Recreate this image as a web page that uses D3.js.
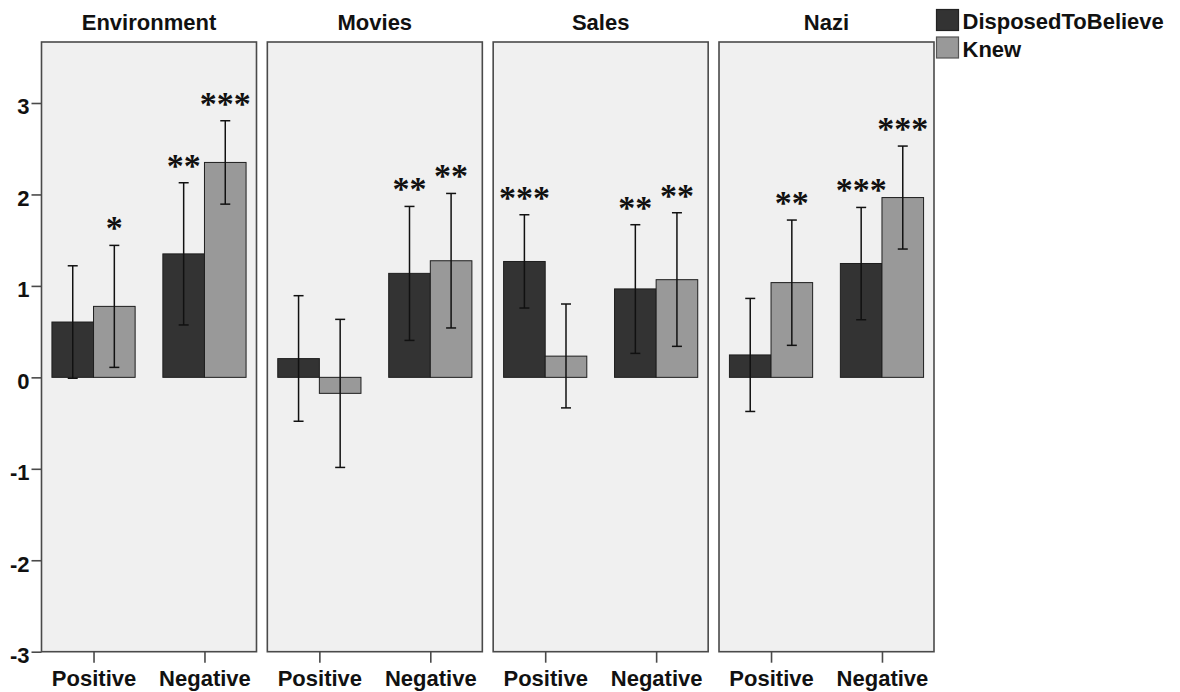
<!DOCTYPE html>
<html>
<head>
<meta charset="utf-8">
<script src="https://cdn.jsdelivr.net/npm/d3@7"></script>
<style>
  html, body { margin: 0; padding: 0; background: #fff; }
  svg { display: block; }
  text { font-family: "Liberation Sans", Arial, sans-serif; font-weight: bold; fill: #111; }
</style>
</head>
<body>
<svg id="chart" width="1180" height="692"></svg>
<script>
// Panels, categories and series
const panels = ["Environment", "Movies", "Sales", "Nazi"];
const categories = ["Positive", "Negative"];
const series = ["DisposedToBelieve", "Knew"];
const yTicks = [-3, -2, -1, 0, 1, 2, 3];

// Values ordered panel by panel: [Positive, Negative] for each panel
const disposedMean = [0.605, 1.35, 0.205, 1.137, 1.267, 0.967, 0.245, 1.245];
const disposedLow  = [-0.01, 0.573, -0.48, 0.404, 0.758, 0.262, -0.373, 0.63];
const disposedHigh = [1.22, 2.128, 0.893, 1.869, 1.778, 1.669, 0.863, 1.858];
const knewMean = [0.776, 2.35, -0.175, 1.275, 0.232, 1.068, 1.036, 1.966];
const knewLow  = [0.109, 1.894, -0.985, 0.54, -0.334, 0.339, 0.35, 1.403];
const knewHigh = [1.443, 2.806, 0.634, 2.011, 0.802, 1.8, 1.72, 2.529];
const disposedStars = ["", "**", "", "**", "***", "**", "", "***"];
const knewStars     = ["*", "***", "", "**", "", "**", "**", "***"];

const colors = { DisposedToBelieve: "#333333", Knew: "#999999" };
const legendStroke = { DisposedToBelieve: "#222222", Knew: "#555555" };

const svg = d3.select("#chart");

const y = d3.scaleLinear().domain([-3, 3.667]).range([651.7, 42]);

const panelX = d3.scaleBand().domain(panels).range([41.5, 934]).paddingInner(0.048).paddingOuter(0);
const catX = d3.scaleBand().domain(categories).range([0, panelX.bandwidth()])
  .paddingInner(0.25).paddingOuter(0.094);
const serX = d3.scaleBand().domain(series).range([0, catX.bandwidth()]).padding(0);

// Flatten into one record per bar
const records = [];
panels.forEach((p, pi) => {
  categories.forEach((c, ci) => {
    const k = pi * categories.length + ci;
    records.push({ panel: p, cat: c, ser: "DisposedToBelieve",
      mean: disposedMean[k], low: disposedLow[k], high: disposedHigh[k], stars: disposedStars[k] });
    records.push({ panel: p, cat: c, ser: "Knew",
      mean: knewMean[k], low: knewLow[k], high: knewHigh[k], stars: knewStars[k] });
  });
});

panels.forEach(p => {
  const g = svg.append("g").attr("transform", `translate(${panelX(p)},0)`);

  g.append("rect")
    .attr("x", 0).attr("y", y(3.667))
    .attr("width", panelX.bandwidth()).attr("height", y(-3) - y(3.667))
    .attr("fill", "#f0f0f0").attr("stroke", "#4a4a4a").attr("stroke-width", 1.6);

  g.append("text")
    .attr("x", panelX.bandwidth() / 2).attr("y", 30)
    .attr("text-anchor", "middle").style("font-size", "22px")
    .text(p);

  const rows = records.filter(r => r.panel === p);
  const bx = r => catX(r.cat) + serX(r.ser);

  g.selectAll("rect.bar").data(rows).join("rect")
    .attr("class", "bar")
    .attr("x", bx)
    .attr("y", r => y(Math.max(0, r.mean)))
    .attr("width", serX.bandwidth())
    .attr("height", r => Math.abs(y(r.mean) - y(0)))
    .attr("fill", r => colors[r.ser])
    .attr("stroke", "#1e1e1e").attr("stroke-width", 1);

  const cx = r => bx(r) + serX.bandwidth() / 2;
  const eb = g.selectAll("g.err").data(rows).join("g").attr("class", "err")
    .attr("stroke", "#111").attr("stroke-width", 1.5);
  eb.append("line").attr("x1", cx).attr("x2", cx)
    .attr("y1", r => y(r.low)).attr("y2", r => y(r.high));
  eb.append("line").attr("x1", r => cx(r) - 5).attr("x2", r => cx(r) + 5)
    .attr("y1", r => y(r.low)).attr("y2", r => y(r.low));
  eb.append("line").attr("x1", r => cx(r) - 5).attr("x2", r => cx(r) + 5)
    .attr("y1", r => y(r.high)).attr("y2", r => y(r.high));

  g.selectAll("text.stars").data(rows.filter(r => r.stars)).join("text")
    .attr("class", "stars")
    .attr("x", cx).attr("y", r => y(r.high) - 6)
    .attr("text-anchor", "middle")
    .style("font-family", "'Liberation Serif', 'Times New Roman', serif")
    .style("font-weight", "bold")
    .style("font-size", "34px")
    .attr("fill", "#000")
    .text(r => r.stars);

  // Category axis under the panel
  const xa = g.append("g").attr("transform", `translate(0,${y(-3)})`)
    .call(d3.axisBottom(d3.scalePoint().domain(categories)
      .range([catX("Positive") + catX.bandwidth() / 2, catX("Negative") + catX.bandwidth() / 2]))
      .tickSize(11).tickPadding(8));
  xa.select(".domain").remove();
  xa.selectAll(".tick line").attr("stroke", "#4a4a4a").attr("stroke-width", 1.6);
  xa.selectAll(".tick text").style("font-size", "22px")
    .style("font-family", "'Liberation Sans', Arial, sans-serif").style("font-weight", "bold").attr("fill", "#111");
});

// Value axis on the first panel
const ya = svg.append("g").attr("transform", `translate(${panelX(panels[0])},0)`)
  .call(d3.axisLeft(y).tickValues(yTicks).tickSize(10).tickPadding(2).tickFormat(d => String(d)));
ya.select(".domain").remove();
ya.selectAll(".tick line").attr("stroke", "#4a4a4a").attr("stroke-width", 1.6);
ya.selectAll(".tick text").attr("dy", "0.5em").style("font-size", "22px")
  .style("font-family", "'Liberation Sans', Arial, sans-serif").style("font-weight", "bold").attr("fill", "#111");

// Legend
const legend = svg.append("g").attr("transform", "translate(936.5,9.5)");
series.forEach((s, i) => {
  legend.append("rect").attr("x", 0).attr("y", i * 27.5)
    .attr("width", 22).attr("height", 21)
    .attr("fill", colors[s]).attr("stroke", legendStroke[s]).attr("stroke-width", 1.2);
  legend.append("text").attr("x", 26).attr("y", i * 27.5 + 19.5)
    .style("font-size", "22px").text(s);
});
</script>
</body>
</html>
